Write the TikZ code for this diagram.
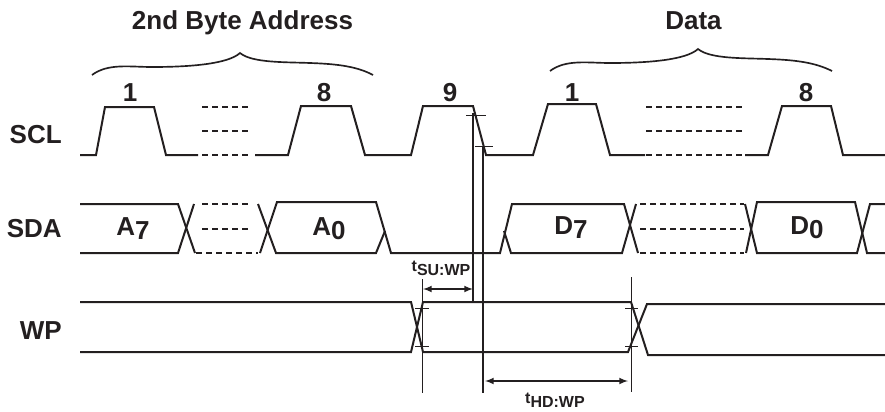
\documentclass[tikz,border=0pt]{standalone}
\usepackage{fontspec}
\setmainfont{Liberation Sans}
\usepackage{tikz}
\usetikzlibrary{arrows}

\definecolor{inkdark}{HTML}{231F20}
\newcommand{\lowdigit}[1]{\raisebox{-3.6pt}{#1}}

\begin{document}
\begin{tikzpicture}[x=0.75pt,y=-0.75pt,
    wave/.style={inkdark,line width=1.5pt,line join=miter},
    dotwave/.style={inkdark,line width=1.5pt,dash pattern=on 4.5pt off 3pt},
    rule/.style={inkdark,line width=0.6pt},
    heavyrule/.style={inkdark,line width=1.4pt},
    midrule/.style={inkdark,line width=1pt},
    span/.style={inkdark,line width=1.25pt,latex-latex},
    brace/.style={inkdark,line width=1.25pt},
    bigtext/.style={inkdark,font=\fontsize{19.5}{22}\selectfont\bfseries,anchor=base,inner sep=0pt},
    smalltext/.style={inkdark,font=\fontsize{12}{14}\selectfont\bfseries,anchor=base,inner sep=0pt}]
        \useasboundingbox (0,0) rectangle (885,411);
        % titles and braces
        \node[bigtext] (addrtitle) at (242.5,29) {2nd Byte Address};
        \node[bigtext] (datatitle) at (693.5,29) {Data};
        \draw[brace] (92,75) .. controls (108,63) and (130,67) .. (152,67)
          .. controls (190,67) and (228,64) .. (240,53)
          .. controls (252,63) and (285,62) .. (310,63)
          .. controls (340,64) and (358,67) .. (373,75);
        \draw[brace] (550,71) .. controls (566,59) and (588,63) .. (610,63)
          .. controls (648,63) and (686,60) .. (698,49)
          .. controls (710,59) and (743,58) .. (768,59)
          .. controls (798,60) and (816,63) .. (832,71);
        % row labels
        \node[bigtext,anchor=base east] (scllabel) at (62,143) {SCL};
        \node[bigtext,anchor=base east] (sdalabel) at (62,237) {SDA};
        \node[bigtext,anchor=base east] (wplabel) at (62,339) {WP};
        % clock numbers
        \foreach \x/\n/\t in {130/one/1, 324/eight/8, 450/nine/9, 572/onedata/1, 806/eightdata/8} {
          \node[bigtext] (clk\n) at (\x,101) {\t};
        }
        % SCL
        \draw[wave] (80,155) -- (96,155) -- (105,107) -- (154,107) -- (166,155) -- (198,155);
        \draw[wave] (255,155) -- (288,155) -- (301,106) -- (351,106) -- (365,155) -- (411,155)
          -- (423,106) -- (473,106) -- (486,155) -- (533,155) -- (548,104) -- (596,104)
          -- (610,155) -- (645,155);
        \draw[wave] (745,155) -- (768,155) -- (782,106) -- (831,106) -- (843,155) -- (885,155);
        \foreach \y in {107,131,155} {
          \draw[dotwave] (202,\y) -- (252,\y);
          \draw[dotwave] (646,\y) -- (746,\y);
        }
        % SDA
        \draw[wave] (80,204) -- (178,204) -- (195,253);
        \draw[wave] (80,253) -- (178,253) -- (194,204);
        \draw[wave] (258,204) -- (276,253) -- (376,253) -- (385,231);
        \draw[wave] (260,253) -- (277,202) -- (376,202) -- (391,253) -- (500,253) -- (512,204)
          -- (624,204) -- (638,253);
        \draw[wave] (504,231) -- (511,253) -- (622,253) -- (636,204);
        \draw[wave] (745,204) -- (757,253) -- (857,253) -- (870,204) -- (885,204);
        \draw[wave] (746,253) -- (757,202) -- (855,202) -- (867,253) -- (885,253);
        \foreach \y in {204,229,253} {
          \draw[dotwave] (640,\y) -- (744,\y);
        }
        \draw[dotwave] (202,204) -- (252,204);
        \draw[dotwave] (202,229) -- (252,229);
        \draw[dotwave] (196,253) -- (258,253);
        % WP
        \draw[wave] (80,302) -- (411,302) -- (423,352) -- (628,352) -- (647,304) -- (885,304);
        \draw[wave] (80,352) -- (411,352) -- (423,302) -- (631,302) -- (648,355) -- (885,355);
        % data names
        \node[bigtext] (afirst) at (133,235) {A\lowdigit{7}};
        \node[bigtext] (alast) at (329,235) {A\lowdigit{0}};
        \node[bigtext] (dfirst) at (571,234) {D\lowdigit{7}};
        \node[bigtext] (dlast) at (807,234) {D\lowdigit{0}};
        % timing rules
        \draw[rule] (422,279) -- (422,393);
        \draw[rule] (631,277) -- (631,392);
        \draw[heavyrule] (473,113) -- (473,302);
        \draw[midrule] (483,146) -- (483,393);
        \foreach \a/\b/\y in {466/486/115, 475/493/146, 415/429/308, 415/429/346, 625/638/308, 625/638/346} {
          \draw[rule] (\a,\y) -- (\b,\y);
        }
        \coordinate (sufrom) at (423,289);
        \coordinate (suto) at (473,289);
        \coordinate (hdfrom) at (485,381);
        \coordinate (hdto) at (628,381);
        \draw[span] (sufrom) -- (suto);
        \draw[span] (hdfrom) -- (hdto);
        \node[smalltext] (sulabel) at (441,271) {t\raisebox{-3pt}{SU:WP}};
        \node[smalltext] (hdlabel) at (555,403) {t\raisebox{-3pt}{HD:WP}};
        \end{tikzpicture}
\end{document}
